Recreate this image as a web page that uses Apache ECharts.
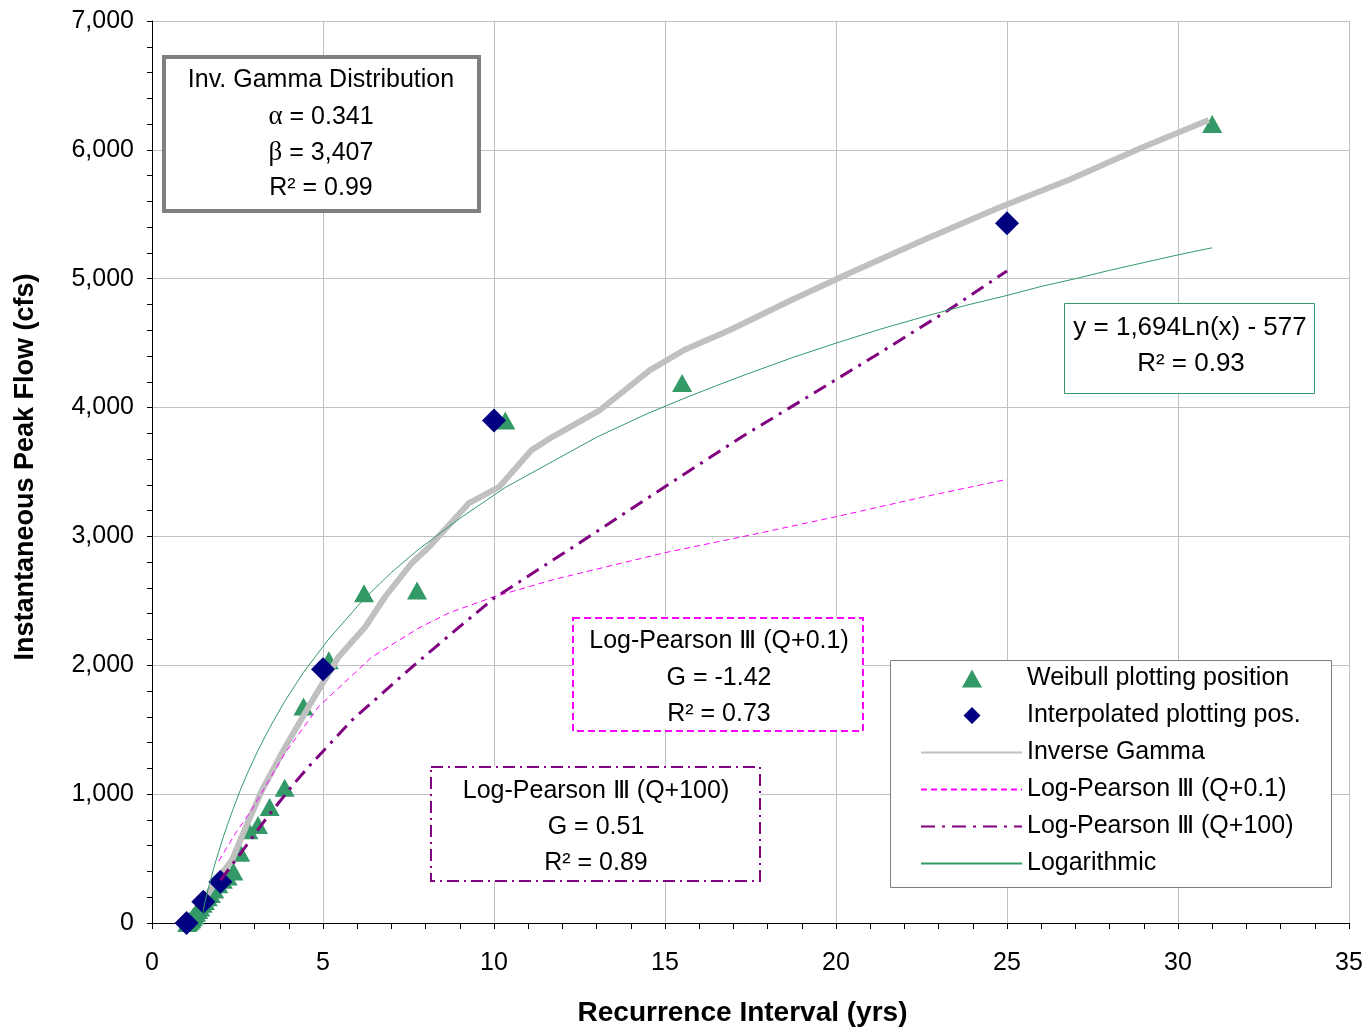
<!DOCTYPE html>
<html>
<head>
<meta charset="utf-8">
<script src="https://cdn.jsdelivr.net/npm/echarts@6/dist/echarts.min.js"></script>
<style>
html, body { margin: 0; padding: 0; background: #fff; }
#chart { width: 1368px; height: 1032px; }
</style>
</head>
<body>
<div id="chart"></div>
<script>
// [recurrence interval (yrs), peak flow (cfs)]
var weibull = [
  [31.0, 6200], [15.5, 4190], [10.33, 3900], [7.75, 2580], [6.2, 2560],
  [5.17, 2040], [4.43, 1680], [3.88, 1050], [3.44, 900], [3.1, 760],
  [2.82, 720], [2.58, 545], [2.38, 400], [2.21, 360], [2.07, 335],
  [1.94, 300], [1.82, 260], [1.72, 225], [1.63, 200], [1.55, 170],
  [1.48, 150], [1.41, 120], [1.35, 100], [1.29, 80], [1.24, 60],
  [1.19, 45], [1.15, 30], [1.11, 20], [1.07, 10], [1.03, 0]
]
var interpolated = [[1.01, 0], [1.5, 165], [2, 320], [5, 1970], [10, 3900], [25, 5430]]
var invGamma = [
  [1.5, 170], [2.0, 370], [2.34, 489], [2.8, 780], [3.22, 1032], [3.9, 1368],
  [4.58, 1679], [5.46, 2067], [6.24, 2299], [6.81, 2530], [7.6, 2794], [8.1, 2918],
  [9.27, 3259], [10.15, 3384], [11.1, 3670], [11.7, 3771], [13.1, 3981], [14.56, 4291],
  [15.56, 4447], [16.9, 4602], [18.7, 4835], [20.5, 5056], [22.56, 5300], [24.74, 5549],
  [26.87, 5774], [29.0, 6024], [30.9, 6231]
]
var lp3Small = [
  [1.95, 480], [2.44, 696], [2.92, 880], [3.89, 1319], [4.87, 1679], [6.43, 2064],
  [7.8, 2289], [8.68, 2406], [10, 2532], [11.7, 2662], [12.5, 2714], [15, 2874],
  [17.5, 3011], [20, 3153], [22.5, 3303], [25, 3443]
]
var lp3Large = [
  [2.0, 330], [2.5, 508], [3.35, 814], [4.12, 1071], [4.58, 1213], [5.85, 1575],
  [7.5, 1963], [8.77, 2250], [10, 2520], [12.5, 2950], [15, 3386], [17.25, 3774],
  [19.26, 4097], [21.27, 4423], [23.29, 4757], [25, 5060]
]
var logFit = [
  [1.48, 70], [1.55, 165], [1.63, 250], [1.72, 340], [1.82, 440], [1.94, 545],
  [2.07, 655], [2.21, 765], [2.38, 890], [2.58, 1030], [2.82, 1180], [3.1, 1340],
  [3.44, 1515], [3.88, 1720], [4.43, 1945], [5.17, 2205], [6.2, 2515], [7.0, 2720],
  [7.75, 2890], [9.0, 3140], [10.33, 3380], [11.7, 3580], [13.0, 3770], [14.5, 3955],
  [15.5, 4065], [16.5, 4170], [17.5, 4270], [18.75, 4390], [20.0, 4500], [21.25, 4605],
  [22.5, 4700], [23.75, 4790], [25.0, 4870], [26.0, 4940], [27.0, 5000], [28.0, 5065],
  [29.0, 5125], [30.0, 5185], [31.0, 5240]
]
var seriesNames = [
  'Weibull plotting position',
  'Interpolated plotting pos.',
  'Inverse Gamma',
  'Log-Pearson Ⅲ (Q+0.1)',
  'Log-Pearson Ⅲ (Q+100)',
  'Logarithmic'
]

var font = '"Liberation Sans", Arial, sans-serif'
// legend icons: the tiny end pieces stretch the path box to the full item width so the marker keeps its shape
var triangleIcon = 'path://M0,9L0.1,9L0,9ZM101,9L100.9,9L101,9ZM51,0L61,18L41,18Z'
var diamondIcon = 'path://M0,9L0.1,9L0,9ZM101,9L100.9,9L101,9ZM51,0.5L59.5,9L51,17.5L42.5,9Z'

var myChart = echarts.init(document.getElementById('chart'))

function box(x, y, w, h, stroke, lw, dash) {
  return {
    type: 'rect',
    z: 3,
    shape: { x: x, y: y, width: w, height: h },
    style: { fill: '#fff', stroke: stroke, lineWidth: lw, lineDash: dash || null }
  }
}
function label(cx, cy, text, size) {
  return {
    type: 'text',
    z: 4,
    style: {
      x: cx, y: cy, text: text,
      align: 'center', verticalAlign: 'middle',
      fontFamily: font, fontSize: size || 25, fill: '#000',
      rich: { g: { fontFamily: '"Liberation Serif", serif', fontSize: 27, fill: '#000' } }
    }
  }
}

myChart.setOption({
  animation: false,
  grid: { left: 152, right: 19, top: 21, bottom: 109, containLabel: false },
  xAxis: {
    type: 'value',
    min: 0, max: 35, interval: 5,
    name: 'Recurrence Interval (yrs)',
    nameLocation: 'middle',
    nameGap: 76,
    nameTextStyle: { fontFamily: font, fontSize: 28, fontWeight: 'bold', color: '#000', padding: [0, 16, 0, 0] },
    axisLine: { show: true, onZero: false, lineStyle: { color: '#000', width: 1 } },
    axisTick: { show: true, length: 6, lineStyle: { color: '#000' } },
    minorTick: { show: true, splitNumber: 5, length: 6, lineStyle: { color: '#000' } },
    axisLabel: { fontFamily: font, fontSize: 25, color: '#000', margin: 28 },
    splitLine: { show: true, lineStyle: { color: '#c0c0c0', width: 1 } }
  },
  yAxis: {
    type: 'value',
    min: 0, max: 7000, interval: 1000,
    name: 'Instantaneous Peak Flow (cfs)',
    nameLocation: 'middle',
    nameGap: 113,
    nameTextStyle: { fontFamily: font, fontSize: 27, fontWeight: 'bold', color: '#000', padding: [0, 0, 0, 10] },
    axisLine: { show: true, lineStyle: { color: '#000', width: 1 } },
    axisTick: { show: true, length: 5, lineStyle: { color: '#000' } },
    minorTick: { show: true, splitNumber: 5, length: 5, lineStyle: { color: '#000' } },
    axisLabel: {
      fontFamily: font, fontSize: 25, color: '#000', margin: 18,
      formatter: function (v) { return v.toLocaleString('en-US') }
    },
    splitLine: { show: true, lineStyle: { color: '#c0c0c0', width: 1 } }
  },
  legend: {
    orient: 'vertical',
    left: 920,
    top: 666,
    padding: 0,
    itemWidth: 101,
    itemHeight: 18,
    itemGap: 12,
    z: 5,
    textStyle: { fontFamily: font, fontSize: 25, color: '#000', lineHeight: 23 },
    data: [
      { name: seriesNames[0], icon: triangleIcon },
      { name: seriesNames[1], icon: diamondIcon },
      { name: seriesNames[2], itemStyle: { opacity: 0 } },
      { name: seriesNames[3], itemStyle: { opacity: 0 } },
      { name: seriesNames[4], itemStyle: { opacity: 0 } },
      { name: seriesNames[5], itemStyle: { opacity: 0 } }
    ]
  },
  graphic: [
    box(164, 57, 315, 154, '#808080', 4),
    label(321, 80, 'Inv. Gamma Distribution'),
    label(321, 117, '{g|α} = 0.341'),
    label(321, 153, '{g|β} = 3,407'),
    label(321, 188, 'R² = 0.99'),
    box(1064.5, 303.5, 250, 90, '#339966', 1),
    label(1190, 328, 'y = 1,694Ln(x) - 577', 26),
    label(1191, 364, 'R² = 0.93', 26),
    box(573, 618, 290, 113, '#ff00ff', 2, [7, 4]),
    label(719, 641, 'Log-Pearson Ⅲ (Q+0.1)'),
    label(719, 678, 'G = -1.42'),
    label(719, 714, 'R² = 0.73'),
    box(431, 767, 329, 114, '#800080', 2, [12, 5, 2, 5]),
    label(596, 791, 'Log-Pearson Ⅲ (Q+100)'),
    label(596, 827, 'G = 0.51'),
    label(596, 863, 'R² = 0.89'),
    box(890.5, 660.5, 441, 227, '#808080', 1)
  ],
  series: [
    {
      name: seriesNames[0],
      type: 'scatter',
      z: 2,
      symbol: 'triangle',
      symbolSize: [20, 18],
      itemStyle: { color: '#339966', opacity: 1 },
      data: weibull
    },
    {
      name: seriesNames[1],
      type: 'scatter',
      z: 4,
      symbol: 'diamond',
      symbolSize: 24,
      itemStyle: { color: '#000080', opacity: 1 },
      data: interpolated
    },
    {
      name: seriesNames[2],
      type: 'line',
      z: 3,
      symbol: 'none',
      itemStyle: { color: '#c0c0c0' },
      lineStyle: { color: '#c0c0c0', width: 6 },
      data: invGamma
    },
    {
      name: seriesNames[3],
      type: 'line',
      z: 5,
      symbol: 'none',
      itemStyle: { color: '#ff00ff' },
      lineStyle: { color: '#ff00ff', width: 1, type: [6, 4] },
      data: lp3Small
    },
    {
      name: seriesNames[4],
      type: 'line',
      z: 5,
      symbol: 'none',
      itemStyle: { color: '#800080' },
      lineStyle: { color: '#800080', width: 3, type: [14, 7, 3, 7] },
      data: lp3Large
    },
    {
      name: seriesNames[5],
      type: 'line',
      z: 5,
      symbol: 'none',
      itemStyle: { color: '#339966' },
      lineStyle: { color: '#339966', width: 1 },
      data: logFit
    }
  ]
})
</script>
</body>
</html>
